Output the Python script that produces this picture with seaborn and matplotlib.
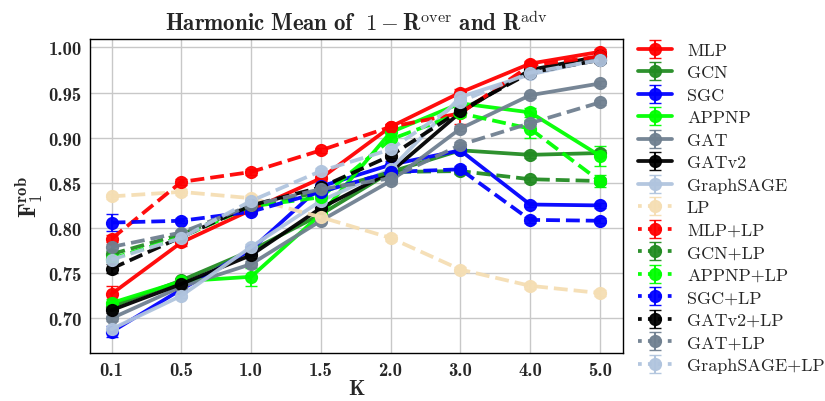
import numpy as np
import matplotlib
matplotlib.use("Agg")
import matplotlib.pyplot as plt
from matplotlib.lines import Line2D
import seaborn as sns

# K values (categorical x axis)
k_labels = ["0.1", "0.5", "1.0", "1.5", "2.0", "3.0", "4.0", "5.0"]

# harmonic mean values
mlp = [0.727, 0.784, 0.820, 0.855, 0.912, 0.950, 0.982, 0.995]
gcn = [0.713, 0.742, 0.775, 0.815, 0.862, 0.886, 0.881, 0.883]
sgc = [0.685, 0.732, 0.776, 0.846, 0.870, 0.886, 0.826, 0.825]
appnp = [0.717, 0.741, 0.746, 0.815, 0.906, 0.938, 0.928, 0.880]
gat = [0.700, 0.735, 0.760, 0.808, 0.852, 0.910, 0.947, 0.960]
gatv2 = [0.709, 0.738, 0.770, 0.822, 0.862, 0.928, 0.975, 0.990]
sage = [0.688, 0.725, 0.779, 0.830, 0.865, 0.945, 0.970, 0.987]
lp = [0.835, 0.840, 0.833, 0.812, 0.789, 0.754, 0.736, 0.728]
mlp_lp = [0.788, 0.851, 0.862, 0.886, 0.912, 0.927, 0.980, 0.990]
gcn_lp = [0.771, 0.793, 0.824, 0.840, 0.862, 0.863, 0.854, 0.852]
appnp_lp = [0.766, 0.790, 0.824, 0.834, 0.898, 0.927, 0.910, 0.852]
sgc_lp = [0.806, 0.808, 0.818, 0.840, 0.862, 0.865, 0.809, 0.808]
gatv2_lp = [0.755, 0.790, 0.825, 0.845, 0.880, 0.930, 0.972, 0.986]
gat_lp = [0.779, 0.795, 0.825, 0.843, 0.855, 0.892, 0.916, 0.939]
sage_lp = [0.765, 0.789, 0.830, 0.863, 0.887, 0.940, 0.972, 0.986]

# standard deviations (mostly tiny)
err_small = [0.003] * 8
err_mlp = [0.009, 0.004, 0.003, 0.003, 0.003, 0.004, 0.003, 0.003]
err_sgc = [0.006, 0.003, 0.003, 0.003, 0.004, 0.003, 0.003, 0.003]
err_appnp = [0.004, 0.003, 0.010, 0.003, 0.004, 0.004, 0.005, 0.011]
err_mlp_lp = [0.004, 0.003, 0.003, 0.003, 0.003, 0.012, 0.003, 0.003]
err_appnp_lp = [0.003, 0.003, 0.003, 0.003, 0.004, 0.004, 0.010, 0.007]
err_sgc_lp = [0.009, 0.003, 0.003, 0.003, 0.003, 0.004, 0.003, 0.003]
err_gatv2_lp = [0.005, 0.003, 0.003, 0.003, 0.003, 0.003, 0.003, 0.003]

series = [
    ("MLP", mlp, err_mlp, "red", "-"),
    ("GCN", gcn, err_small, "forestgreen", "-"),
    ("SGC", sgc, err_sgc, "blue", "-"),
    ("APPNP", appnp, err_appnp, "lime", "-"),
    ("GAT", gat, err_small, "slategray", "-"),
    ("GATv2", gatv2, err_small, "black", "-"),
    ("GraphSAGE", sage, err_small, "lightsteelblue", "-"),
    ("LP", lp, err_small, "wheat", "--"),
    ("MLP+LP", mlp_lp, err_mlp_lp, "red", "--"),
    ("GCN+LP", gcn_lp, err_small, "forestgreen", "--"),
    ("APPNP+LP", appnp_lp, err_appnp_lp, "lime", "--"),
    ("SGC+LP", sgc_lp, err_sgc_lp, "blue", "--"),
    ("GATv2+LP", gatv2_lp, err_gatv2_lp, "black", "--"),
    ("GAT+LP", gat_lp, err_small, "slategray", "--"),
    ("GraphSAGE+LP", sage_lp, err_small, "lightsteelblue", "--"),
]

sns.set_theme(style="whitegrid")
plt.rcParams["mathtext.fontset"] = "cm"
plt.rcParams["axes.formatter.use_mathtext"] = True
plt.rcParams["font.family"] = ["cmr10", "DejaVu Serif"]

fig = plt.figure(figsize=(8.25, 4.02), dpi=100)
ax = fig.add_axes([0.109, 0.1194, 0.646, 0.781])

x = np.arange(len(k_labels))
for name, vals, err, color, ls in series:
    ax.errorbar(x, vals, yerr=err, label=name, color=color, linestyle=ls,
                linewidth=2.7, marker="o", markersize=8.5, capsize=4,
                elinewidth=1.5, alpha=0.95)

ax.set_xlim(-0.31, 7.33)
ax.set_ylim(0.6616, 1.0092)
ax.set_xticks(x)
ax.set_xticklabels(k_labels, fontfamily="cmb10", fontsize=13.5)
yt = [0.70, 0.75, 0.80, 0.85, 0.90, 0.95, 1.00]
ax.set_yticks(yt)
ax.set_yticklabels([f"{v:.2f}" for v in yt], fontfamily="cmb10", fontsize=13.5)
ax.tick_params(axis="both", length=3, pad=3, color="black")

ax.grid(True, color="#c8c8c8", linewidth=1.0)
ax.set_facecolor("white")
for sp in ax.spines.values():
    sp.set_color("black")
    sp.set_linewidth(1.0)

ax.set_xlabel("K", fontfamily="cmb10", fontsize=15, labelpad=0)
ax.set_ylabel(r"$\mathbf{F}_{\mathbf{1}}^{\mathbf{rob}}$", fontsize=17, labelpad=2)
ax.set_title(r"$\mathbf{Harmonic\ Mean\ of}\ \ \mathbf{1-R}^{\rm over}\ \mathbf{and}\ \mathbf{R}^{\rm adv}$",
             fontsize=16.5, pad=6)

leg = ax.legend(loc="upper left", bbox_to_anchor=(1.005, 1.03), frameon=False,
                fontsize=13, handlelength=1.9, labelspacing=0.38,
                handletextpad=0.8, borderaxespad=0.3)
# the LP variants show as dotted handles in the legend
for line in leg.findobj(Line2D):
    if line.get_linestyle() == "--":
        line.set_linestyle(":")

plt.savefig("out.png", dpi=100, facecolor="white")
